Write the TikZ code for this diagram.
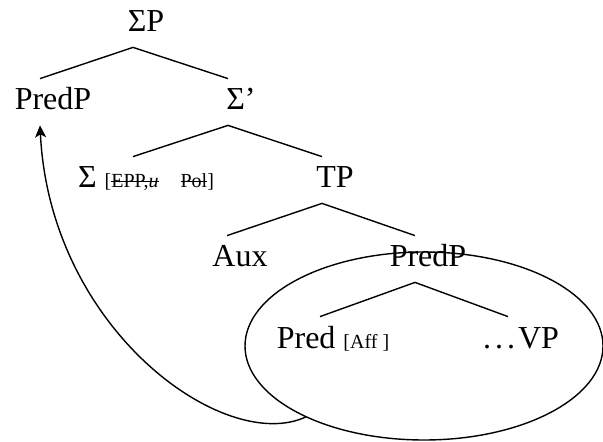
\documentclass[tikz,border=0pt]{standalone}
\usepackage{fontspec}
\setmainfont{Liberation Serif}
\usetikzlibrary{shapes.geometric,arrows.meta}

\newcommand{\feat}[1]{{\fontsize{10}{12}\selectfont #1}}
\newsavebox{\strikebox}
\newcommand{\strike}[1]{\sbox{\strikebox}{#1}%
  \makebox[0pt][l]{\rule[.3em]{\wd\strikebox}{.5pt}}\usebox{\strikebox}}

\begin{document}
\begin{tikzpicture}[
  x=.5pt,y=-.5pt,
  word/.style={anchor=base,inner xsep=0pt,inner ysep=5pt,
    text height=10.5pt,text depth=2.5pt,font=\fontsize{16}{19}\selectfont},
  branch/.style={line width=.7pt}
]
  \useasboundingbox (0,0) rectangle (603,442);

  % Labels
  \node[word] (SigmaP) at (146,32) {ΣP};
  \node[word] (PredP spec) at (53,110) {PredP};
  \node[word] (SigmaBar) at (241,110) {Σ’};
  \node[word] (Sigma) at (146,188) {Σ \feat{[\strike{EPP,\textit{u}}\hspace{11pt}\strike{Pol}]}};
  \node[word] (TP) at (335,188) {TP};
  \node[word] (Aux) at (240,267) {Aux};
  \node[word] (PredP) at (428,267) {PredP};
  \node[word] (Pred) at (333,348) {Pred \feat{[Aff ]}};
  \node[word] (VP) at (521,348) {.\kern2pt.\kern2pt.\kern1.5pt VP};

  % Lines
  \foreach \mother/\daughter in {SigmaP/PredP spec,SigmaP/SigmaBar,
      SigmaBar/Sigma,SigmaBar/TP,TP/Aux,TP/PredP,PredP/Pred,PredP/VP}
    \draw[branch] ([xshift=-6.5pt]\mother.south) -- ([xshift=-6.5pt]\daughter.north);

  % Moved constituent
  \node[draw,ellipse,line width=.7pt,inner sep=0pt,outer sep=0pt,
    minimum width=179pt,minimum height=94pt] (moved) at (424,346) {};
  \draw[branch,-{Stealth[length=6pt,width=5.5pt,inset=1.5pt]}]
    (moved.211) .. controls (225,455) and (50,330) .. ([xshift=-6.5pt]PredP spec.south);
\end{tikzpicture}
\end{document}
